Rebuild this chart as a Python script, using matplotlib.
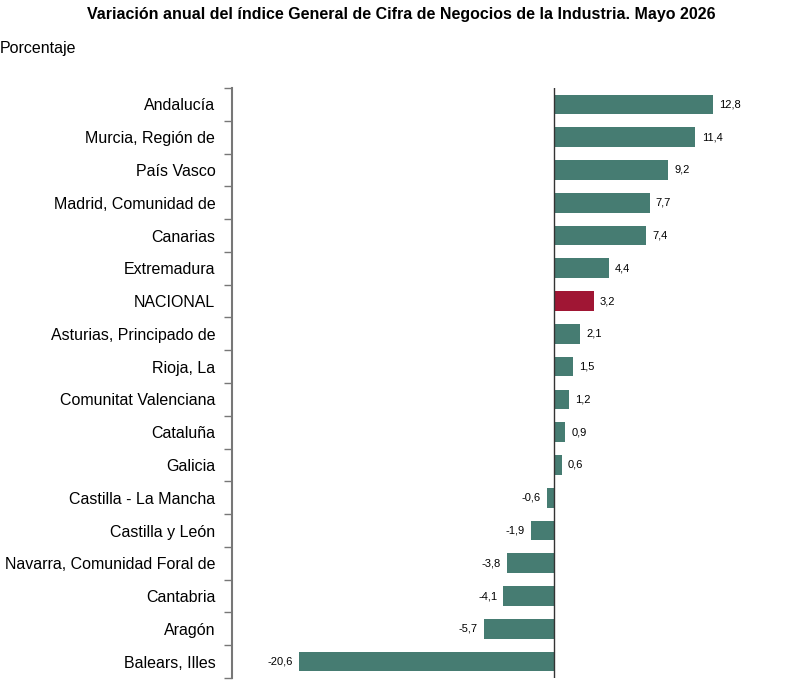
import matplotlib.pyplot as plt
import numpy as np

plt.rcParams['font.family'] = ['Liberation Sans', 'DejaVu Sans']

regions = ['Andalucía', 'Murcia, Región de', 'País Vasco', 'Madrid, Comunidad de',
           'Canarias', 'Extremadura', 'NACIONAL', 'Asturias, Principado de',
           'Rioja, La', 'Comunitat Valenciana', 'Cataluña', 'Galicia',
           'Castilla - La Mancha', 'Castilla y León', 'Navarra, Comunidad Foral de',
           'Cantabria', 'Aragón', 'Balears, Illes']
values = [12.8, 11.4, 9.2, 7.7, 7.4, 4.4, 3.2, 2.1, 1.5, 1.2, 0.9, 0.6,
          -0.6, -1.9, -3.8, -4.1, -5.7, -20.6]

teal = '#467c72'
red = '#a01634'
colors = [red if r == 'NACIONAL' else teal for r in regions]

fig = plt.figure(figsize=(8.02, 6.88), dpi=100)
ax = fig.add_axes([232 / 802, 10 / 688, 570 / 802, 590 / 688])

y = np.arange(len(regions))
ax.barh(y, values, height=0.6, color=colors)
ax.set_xlim(-26, 20)
ax.set_ylim(len(regions) - 0.5, -0.5)
ax.axvline(0, color='#333333', lw=1)

for yi, v in zip(y, values):
    txt = f'{v:.1f}'.replace('.', ',')
    if v >= 0:
        ax.text(v + 0.5, yi, txt, va='center', ha='left', fontsize=8)
    else:
        ax.text(v - 0.5, yi, txt, va='center', ha='right', fontsize=8)

ax.set_yticks(y)
ax.set_yticklabels(regions, fontsize=11.5)
ax.tick_params(axis='y', which='major', length=0, pad=12)
ax.set_yticks(np.arange(-0.5, len(regions)), minor=True)
ax.tick_params(axis='y', which='minor', length=6, color='#777777', width=1)
ax.set_xticks([])
for s in ['top', 'right', 'bottom']:
    ax.spines[s].set_visible(False)
ax.spines['left'].set_color('#777777')
ax.spines['left'].set_linewidth(1.5)

fig.text(0.5, 1 - 14 / 688, 'Variación anual del índice General de Cifra de Negocios de la Industria. Mayo 2026',
         ha='center', va='center', fontsize=11.5, fontweight='bold')
fig.text(0, 1 - 48 / 688, 'Porcentaje', ha='left', va='center', fontsize=11.5)

fig.savefig('out.png', dpi=100)
